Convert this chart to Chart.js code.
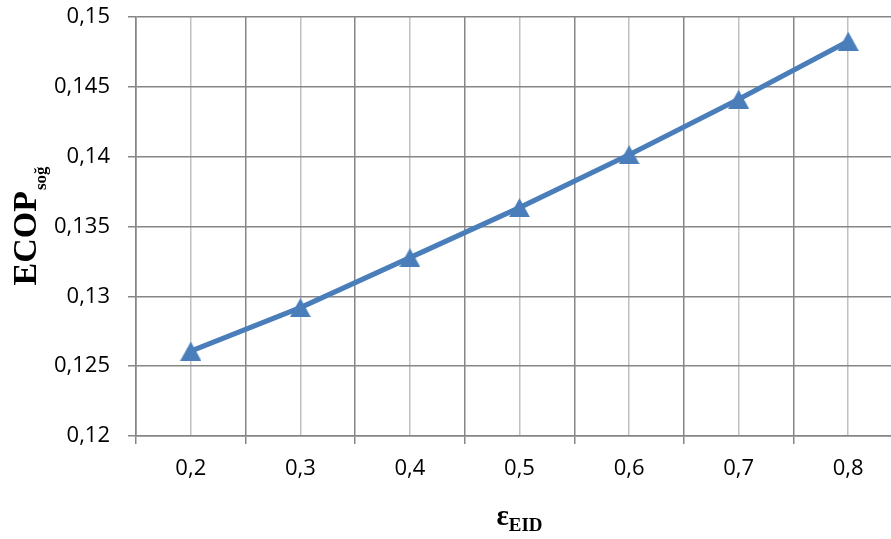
<!DOCTYPE html>
<html>
<head>
<meta charset="utf-8">
<script src="https://cdn.jsdelivr.net/npm/chart.js@4"></script>
<style>
  html, body { margin: 0; padding: 0; background: #fff; overflow: hidden; }
  #wrap { width: 918px; height: 539px; }
</style>
</head>
<body>
<div id="wrap"><canvas id="chart" width="918" height="539"></canvas></div>
<script>
// data
const categories = ['0,2', '0,3', '0,4', '0,5', '0,6', '0,7', '0,8'];
const ecopValues = [0.12608, 0.12919, 0.13277, 0.13635, 0.14014, 0.14411, 0.14826];
const yTickLabels = ['0,12', '0,125', '0,13', '0,135', '0,14', '0,145', '0,15'];

const yTitle = { main: 'ECOP', sub: 'soğ' };
const xTitle = { main: 'ε', sub: 'EID' };

// triangle marker, centred on its box like the original
function makeTriangle(w, h, color) {
    const c = document.createElement('canvas');
    c.width = w;
    c.height = h;
    const g = c.getContext('2d');
    g.fillStyle = color;
    g.beginPath();
    g.moveTo(w / 2, 0);
    g.lineTo(w, h);
    g.lineTo(0, h);
    g.closePath();
    g.fill();
    return c;
}

const blue = '#4a7ebb';
const marker = makeTriangle(21, 19, blue);

// axis titles with subscripts
const axisTitles = {
    id: 'axisTitles',
    afterDraw(chart) {
        const ctx = chart.ctx;
        const area = chart.chartArea;
        ctx.save();
        ctx.fillStyle = '#000';
        ctx.textBaseline = 'alphabetic';
        ctx.textAlign = 'left';

        // y title, rotated
        ctx.font = 'bold 34px "Liberation Serif"';
        const wMain = ctx.measureText(yTitle.main).width;
        ctx.font = 'bold 17px "Liberation Serif"';
        const wSub = ctx.measureText(yTitle.sub).width;
        const cy = (area.top + area.bottom) / 2;
        ctx.save();
        ctx.translate(36, cy);
        ctx.rotate(-Math.PI / 2);
        const sx = -(wMain + wSub) / 2;
        ctx.font = 'bold 34px "Liberation Serif"';
        ctx.fillText(yTitle.main, sx, 0);
        ctx.font = 'bold 17px "Liberation Serif"';
        ctx.fillText(yTitle.sub, sx + wMain + 1, 10);
        ctx.restore();

        // x title
        ctx.font = 'bold 29px "Liberation Serif"';
        const wE = ctx.measureText(xTitle.main).width;
        ctx.font = 'bold 19px "Liberation Serif"';
        const wS = ctx.measureText(xTitle.sub).width;
        const cx = (area.left + area.right) / 2;
        const x0 = cx - (wE + wS) / 2;
        ctx.font = 'bold 29px "Liberation Serif"';
        ctx.fillText(xTitle.main, x0, 525);
        ctx.font = 'bold 19px "Liberation Serif"';
        ctx.fillText(xTitle.sub, x0 + wE, 531);
        ctx.restore();
    }
};

new Chart(document.getElementById('chart'), {
    type: 'line',
    data: {
        labels: categories,
        datasets: [{
            label: 'ECOP',
            data: ecopValues,
            borderColor: blue,
            backgroundColor: blue,
            borderWidth: 5,
            pointStyle: marker,
            pointRadius: 10,
            fill: false,
            tension: 0
        }]
    },
    options: {
        responsive: false,
        animation: false,
        layout: { padding: { top: 17, right: 7, left: 0, bottom: 0 } },
        plugins: {
            legend: { display: false },
            tooltip: { enabled: false }
        },
        scales: {
            x: {
                type: 'category',
                offset: true,
                grid: {
                    offset: true,
                    color: '#868686',
                    lineWidth: 1.5,
                    tickLength: 8
                },
                border: { color: '#868686', width: 1.5 },
                ticks: {
                    color: '#000',
                    padding: 12,
                    font: { family: '"Open Sans"', size: 22 }
                },
                afterFit: (scale) => { scale.height = 103; }
            },
            x2: {
                type: 'category',
                position: 'bottom',
                labels: categories,
                offset: true,
                grid: {
                    offset: false,
                    color: '#c0c0c0',
                    lineWidth: 1.5,
                    drawTicks: false
                },
                border: { display: false },
                ticks: { display: false },
                afterFit: (scale) => { scale.height = 0; }
            },
            y: {
                min: 0.12,
                max: 0.15,
                ticks: {
                    stepSize: 0.005,
                    color: '#000',
                    padding: 18,
                    font: { family: '"Open Sans"', size: 22 },
                    callback: (value, i) => yTickLabels[i]
                },
                grid: {
                    color: '#868686',
                    lineWidth: 1.5,
                    tickLength: 8
                },
                border: { color: '#868686', width: 1.5 },
                afterFit: (scale) => {
                    scale.width = 136;
                    scale.paddingTop = 0;
                    scale.paddingBottom = 0;
                }
            }
        }
    },
    plugins: [axisTitles]
});
</script>
</body>
</html>
